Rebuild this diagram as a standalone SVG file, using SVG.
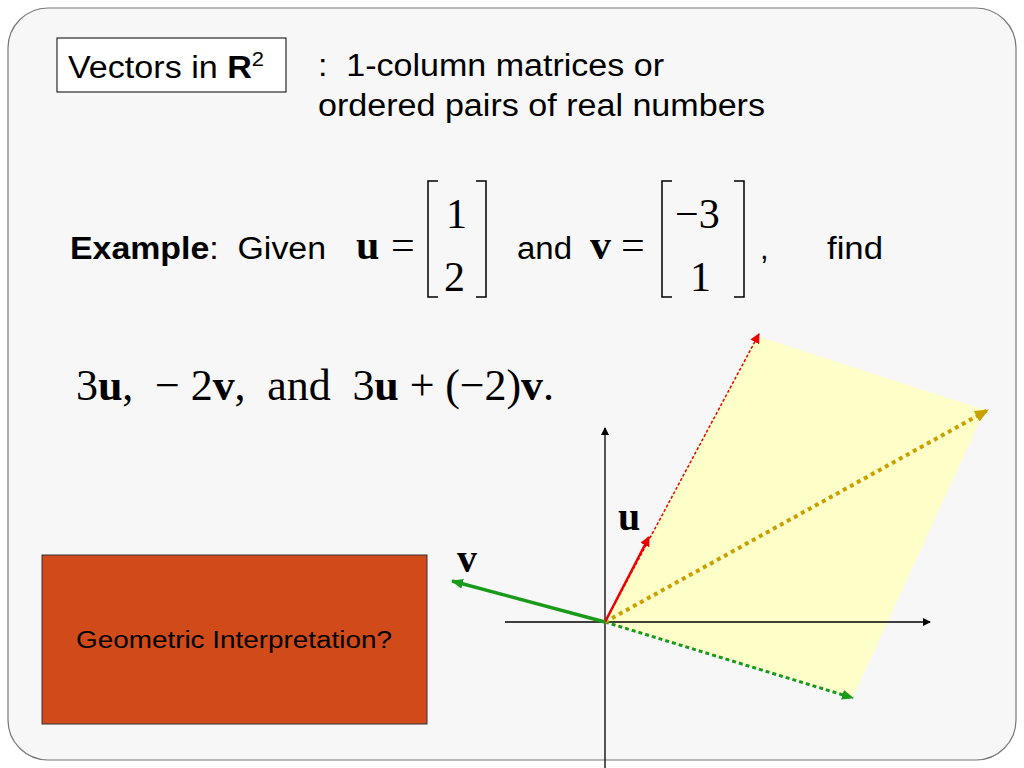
<svg xmlns="http://www.w3.org/2000/svg" width="1024" height="768" viewBox="0 0 1024 768">
<defs>
<style>
.s{font-family:"Liberation Sans",Arial,sans-serif;fill:#000}
.m{font-family:"Liberation Serif","Times New Roman",serif;fill:#000}
.br{fill:none;stroke:#000;stroke-width:1.5}
</style>
<marker id="ak" markerWidth="8" markerHeight="8" refX="7" refY="4" orient="auto" markerUnits="userSpaceOnUse"><path d="M0,0L8,4L0,8z" fill="#000"/></marker>
<marker id="ar" markerWidth="10" markerHeight="10" refX="9" refY="5" orient="auto" markerUnits="userSpaceOnUse"><path d="M0,0L10,5L0,10z" fill="#e00"/></marker>
<marker id="ag" markerWidth="12" markerHeight="10" refX="11" refY="5" orient="auto" markerUnits="userSpaceOnUse"><path d="M0,0L12,5L0,10z" fill="#1a9a1a"/></marker>
<marker id="ao" markerWidth="14" markerHeight="12" refX="13" refY="6" orient="auto" markerUnits="userSpaceOnUse"><path d="M0,0L14,6L0,12z" fill="#c8a000"/></marker>
</defs>
<rect width="1024" height="768" fill="#fff"/>
<rect x="8" y="8" width="1008" height="752" rx="40" fill="#f7f7f7" stroke="#777" stroke-width="1.2"/>
<g id="title">
<rect x="57" y="38" width="229" height="54" fill="#fff" stroke="#000"/>
<text x="68" y="78" class="s" font-size="31" textLength="196" lengthAdjust="spacingAndGlyphs">Vectors in <tspan font-weight="bold">R</tspan><tspan font-size="20" dy="-12">2</tspan></text>
<text x="318" y="76" class="s" font-size="31" xml:space="preserve" textLength="346" lengthAdjust="spacingAndGlyphs">:  1-column matrices or</text>
<text x="318" y="116" class="s" font-size="31" textLength="447" lengthAdjust="spacingAndGlyphs">ordered pairs of real numbers</text>
</g>
<g id="example">
<text x="70" y="259" class="s" font-size="31" xml:space="preserve" textLength="256" lengthAdjust="spacingAndGlyphs"><tspan font-weight="bold">Example</tspan>:  Given</text>
<text x="356" y="259" class="m" font-size="42" font-weight="bold">u</text>
<text x="391" y="259" class="m" font-size="42">=</text>
<path class="br" d="M438,181h-10v116h10M476,181h10v116h-10"/>
<text x="446" y="228" class="m" font-size="42">1</text>
<text x="444" y="291" class="m" font-size="42">2</text>
<text x="517" y="259" class="s" font-size="31" textLength="55" lengthAdjust="spacingAndGlyphs">and</text>
<text x="590" y="259" class="m" font-size="42" font-weight="bold">v</text>
<text x="621" y="259" class="m" font-size="42">=</text>
<path class="br" d="M672,181h-10v116h10M734,181h10v116h-10"/>
<text x="675" y="228" class="m" font-size="42">−3</text>
<text x="690" y="291" class="m" font-size="42">1</text>
<text x="760" y="259" class="s" font-size="31">,</text>
<text x="827" y="259" class="s" font-size="31" textLength="56" lengthAdjust="spacingAndGlyphs">find</text>
<text x="76" y="400" class="m" font-size="44" textLength="478" lengthAdjust="spacing" xml:space="preserve">3<tspan font-weight="bold">u</tspan>,  − 2<tspan font-weight="bold">v</tspan>,  and  3<tspan font-weight="bold">u</tspan> + (−2)<tspan font-weight="bold">v</tspan>.</text>
</g>
<g id="geo">
<rect x="42" y="555" width="385" height="169" fill="#d04a1a" stroke="#333"/>
<text x="76" y="648" class="s" font-size="23" textLength="316" lengthAdjust="spacingAndGlyphs">Geometric Interpretation?</text>
</g>
<g id="plot">
<polygon points="605,622 757,336 985,410 853,697" fill="#ffffc0" opacity="0.85"/>
<line x1="505" y1="622" x2="930" y2="622" stroke="#000" stroke-width="1.3" marker-end="url(#ak)"/>
<line x1="605" y1="768" x2="605" y2="428" stroke="#000" stroke-width="1.3" marker-end="url(#ak)"/>
<line x1="605" y1="622" x2="759" y2="334" stroke="#e00" stroke-width="1.5" stroke-dasharray="3,2" marker-end="url(#ar)"/>
<line x1="605" y1="622" x2="853" y2="698" stroke="#1a9a1a" stroke-width="3" stroke-dasharray="4,3" marker-end="url(#ag)"/>
<line x1="605" y1="622" x2="988" y2="410" stroke="#c8a000" stroke-width="4" stroke-dasharray="4,4" marker-end="url(#ao)"/>
<line x1="605" y1="622" x2="649" y2="537" stroke="#e00" stroke-width="2.5" marker-end="url(#ar)"/>
<line x1="605" y1="622" x2="452" y2="581" stroke="#1a9a1a" stroke-width="3.5" marker-end="url(#ag)"/>
<text x="618" y="530" class="m" font-size="40" font-weight="bold">u</text>
<text x="457" y="572" class="m" font-size="40" font-weight="bold">v</text>
</g>
</svg>
